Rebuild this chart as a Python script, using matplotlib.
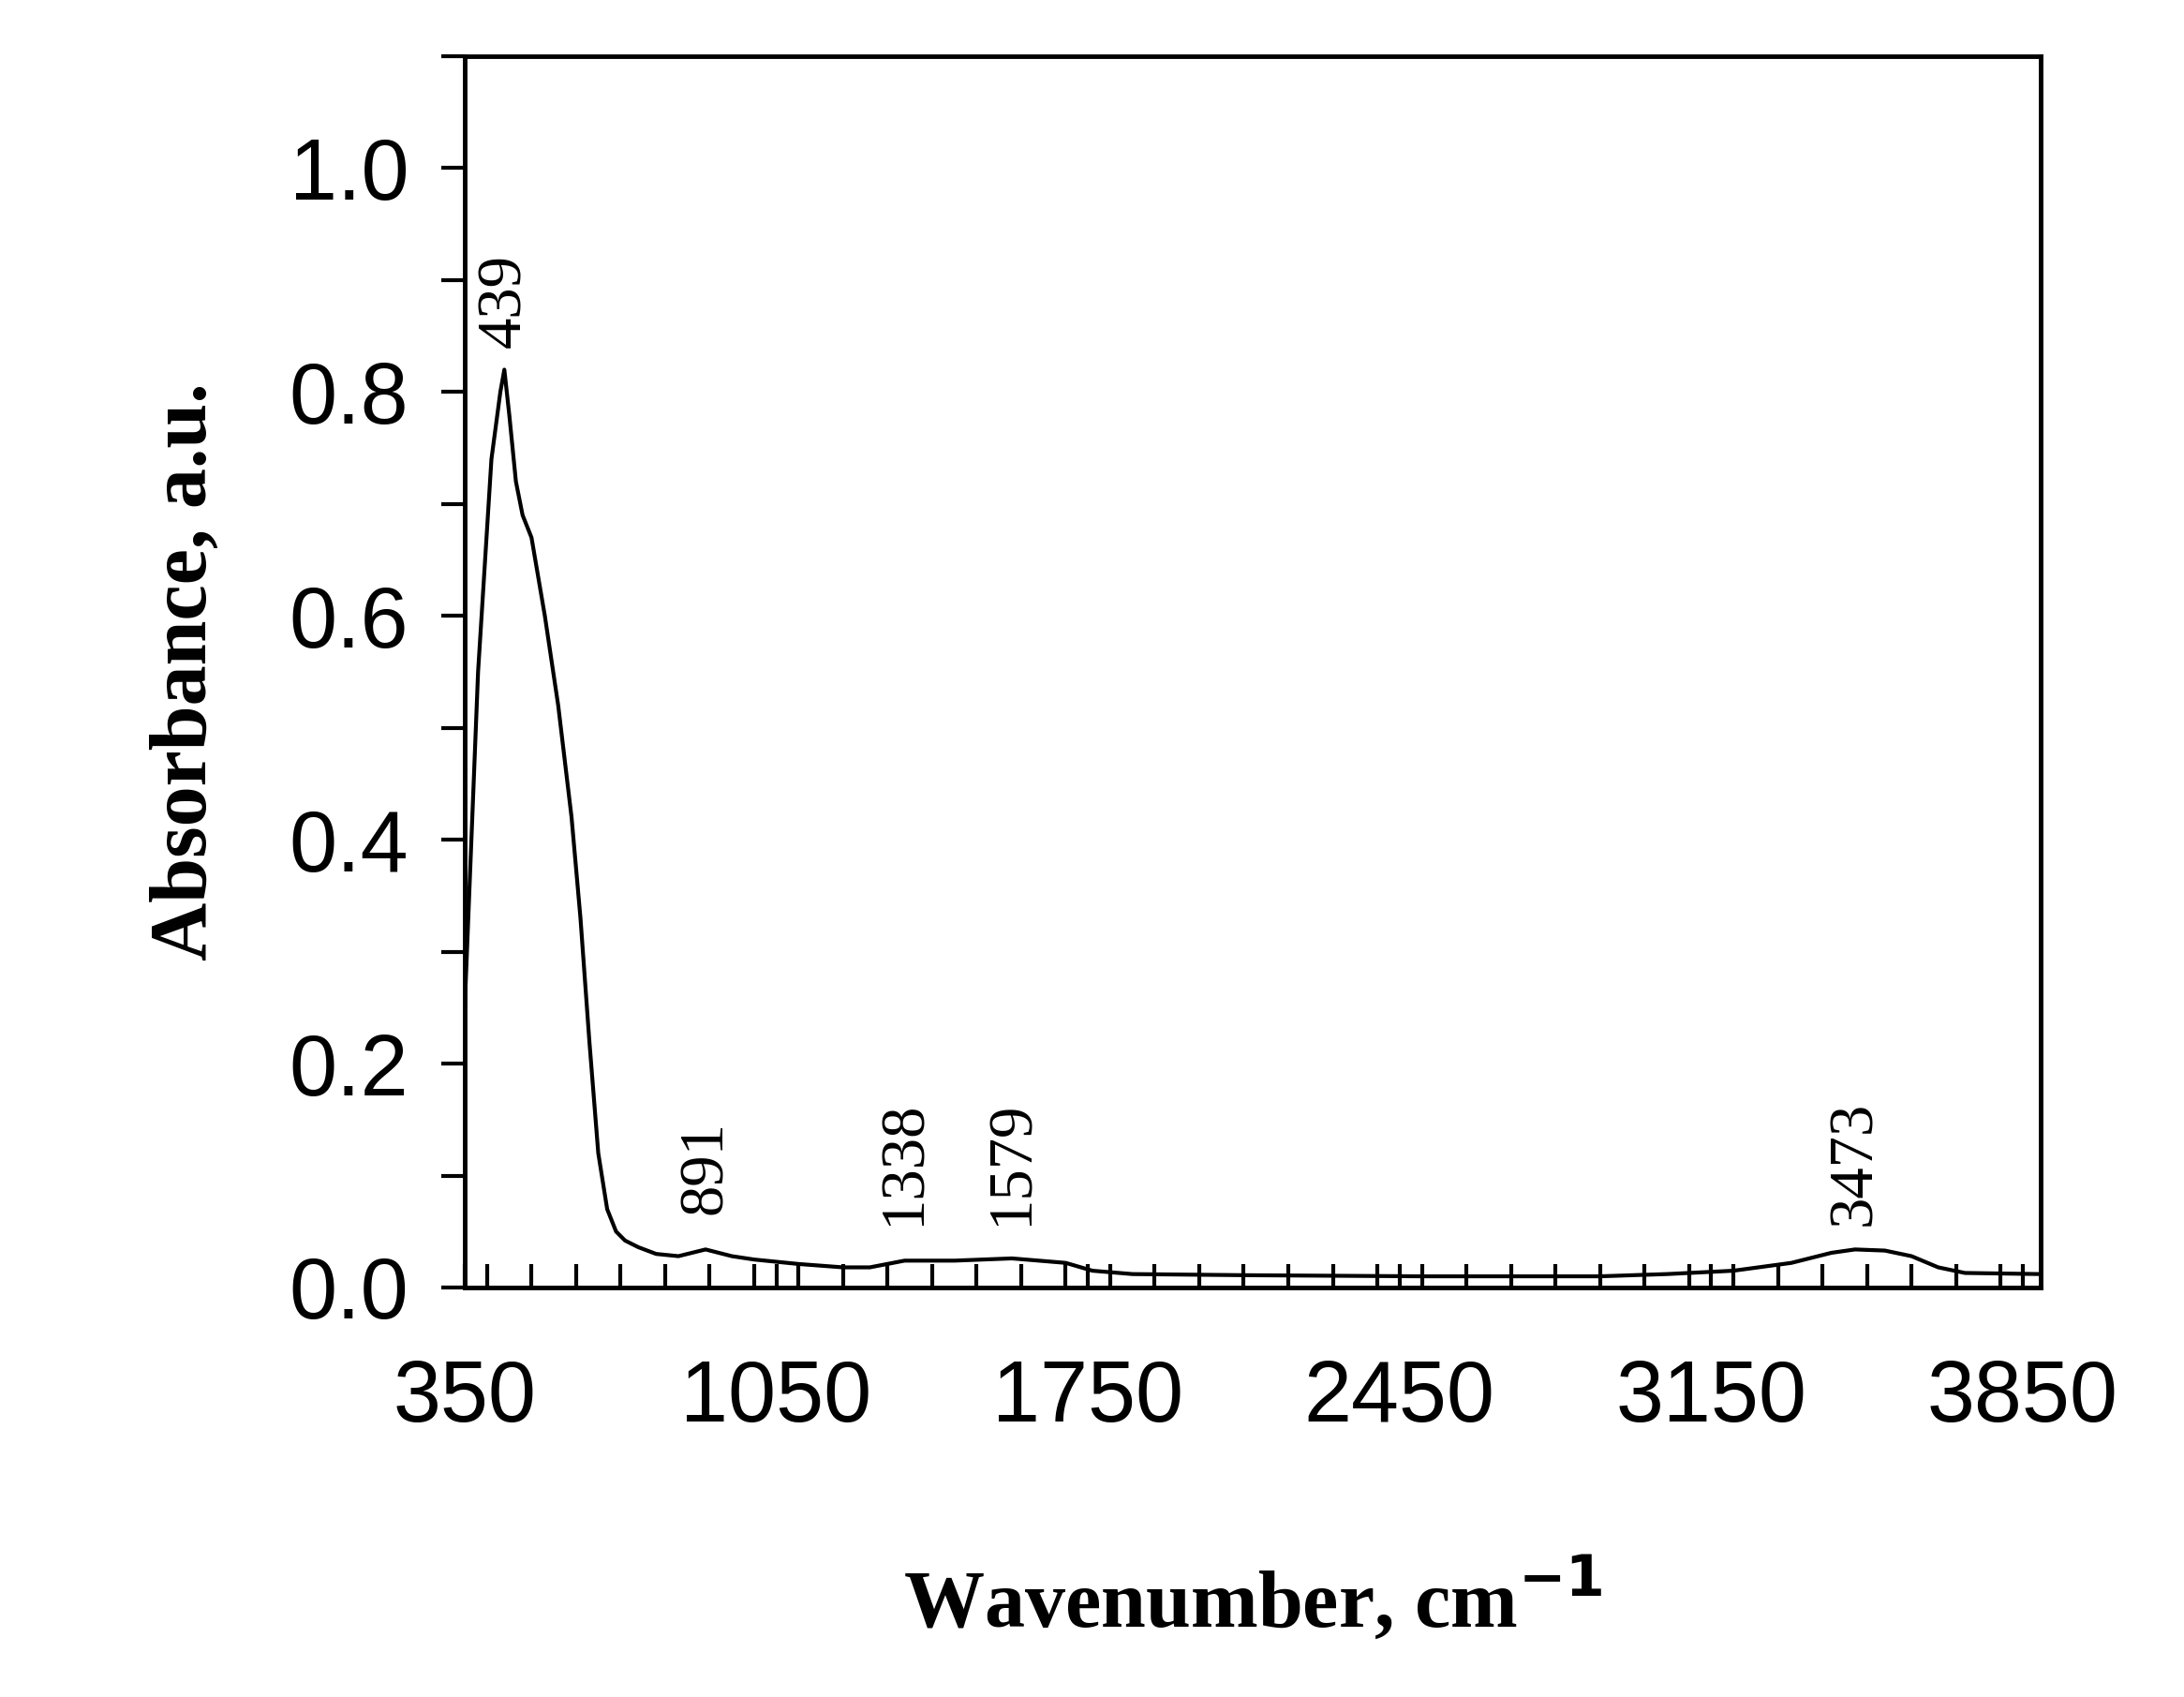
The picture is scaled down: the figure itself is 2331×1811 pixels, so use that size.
import matplotlib
matplotlib.use("Agg")
import matplotlib.pyplot as plt
import numpy as np
from matplotlib.ticker import MultipleLocator

wavenumber = [350, 380, 410, 430, 439, 450, 465, 480, 500, 530, 560, 590, 610, 630, 650, 670, 690, 710, 740, 780, 830, 891, 950, 1000, 1100, 1200, 1260, 1338, 1450, 1579, 1700, 1760, 1850, 2100, 2500, 2900, 3050, 3200, 3330, 3420, 3473, 3540, 3600, 3660, 3720, 3890]
absorbance = [0.25, 0.55, 0.74, 0.80, 0.82, 0.78, 0.72, 0.69, 0.67, 0.60, 0.52, 0.42, 0.33, 0.22, 0.12, 0.07, 0.05, 0.042, 0.036, 0.03, 0.028, 0.034, 0.028, 0.025, 0.021, 0.018, 0.018, 0.024, 0.024, 0.026, 0.022, 0.015, 0.012, 0.011, 0.01, 0.01, 0.012, 0.015, 0.022, 0.031, 0.034, 0.033, 0.028, 0.018, 0.013, 0.012]
peak_labels = [("439", 439, 0.84), ("891", 891, 0.065), ("1338", 1338, 0.055), ("1579", 1579, 0.055), ("3473", 3473, 0.055)]
x_ticks = [350, 1050, 1750, 2450, 3150, 3850]
y_ticks = [0.0, 0.2, 0.4, 0.6, 0.8, 1.0]

fig = plt.figure(figsize=(23.31, 18.11), dpi=100)
ax = fig.add_axes([496/2331, 1-1374/1811, (2178-496)/2331, (1374-60)/1811])
ax.plot(wavenumber, absorbance, color="black", lw=3)
ax.set_xlim(350, 3890)
ax.set_ylim(0, 1.1)
ax.set_xticks(x_ticks)
ax.xaxis.set_minor_locator(MultipleLocator(100))
ax.set_yticks(y_ticks)
ax.yaxis.set_minor_locator(MultipleLocator(0.1))
ax.set_yticklabels([f"{v:.1f}" for v in y_ticks])
ax.tick_params(axis="x", which="both", direction="in", length=18, width=3, pad=55, labelsize=66)
ax.tick_params(axis="y", which="both", direction="out", length=18, width=3, pad=25, labelsize=66)
for lab in ax.get_xticklabels() + ax.get_yticklabels():
    lab.set_fontfamily("Liberation Sans")
for s in ax.spines.values():
    s.set_linewidth(3.5)
for txt, x, y in peak_labels:
    ax.text(x, y, txt, rotation=90, ha="center", va="bottom", fontsize=48, family="Liberation Serif")
ax.set_xlabel("Wavenumber, cm$^{\\mathbf{-1}}$", fontsize=62, family="Liberation Serif", fontweight="bold", labelpad=90)
ax.set_ylabel("Absorbance, a.u.", fontsize=62, family="Liberation Serif", fontweight="bold", labelpad=50)
fig.savefig("out.png", dpi=100)
